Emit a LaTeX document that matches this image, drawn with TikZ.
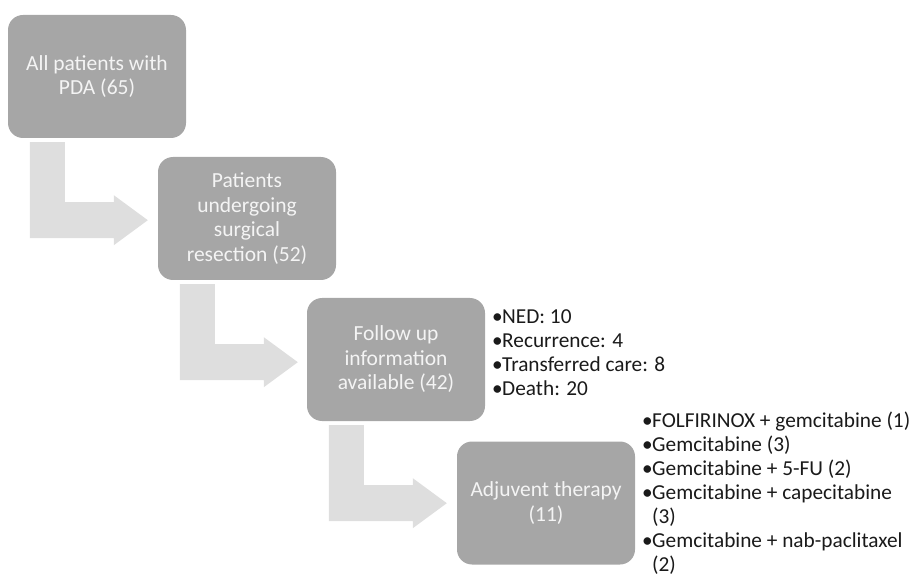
\documentclass[tikz,border=0pt]{standalone}
\usepackage{fontspec}
\setmainfont{Carlito}
\usetikzlibrary{calc}
\definecolor{boxgray}{HTML}{A6A6A6}
\definecolor{arrowgray}{HTML}{DEDEDE}
\definecolor{boxtext}{HTML}{F4F4F4}
\definecolor{listtext}{HTML}{1A1A1A}
\tikzset{
  stagebox/.style={rounded corners=15pt, fill=boxgray, draw=none,
    minimum width=178pt, minimum height=123pt, text=boxtext, align=center,
    font=\fontsize{21.5}{24.5}\selectfont, inner sep=0pt},
  bentarrow/.style={fill=arrowgray, draw=none},
  bulletlist/.style={anchor=north west, align=left, inner sep=0pt, text=listtext,
    font=\fontsize{21.3}{24}\selectfont}
}
\newcommand{\bul}{\makebox[10pt][l]{•}}
\newcommand{\hang}{\hspace*{10pt}}
\begin{document}
\begin{tikzpicture}[x=1pt,y=-1pt]
\useasboundingbox (0,0) rectangle (919,588);
\node[stagebox] (b1) at (97,76.5) {All patients with\\PDA (65)};
\node[stagebox] (b2) at (247,218.5) {Patients\\undergoing\\surgical\\resection (52)};
\node[stagebox] (b3) at (396,359.5) {Follow up\\information\\available (42)};
\node[stagebox] (b4) at (546,503) {Adjuvent therapy\\(11)};
\foreach \a/\b in {b1/b2,b2/b3,b3/b4}{
  \fill[bentarrow] ($(\a.south west)+(22,4)$) -- ($(\a.south west)+(57,4)$)
    -- ($(\a.south west)+(57,64)$) -- ($(\a.south west)+(106,64)$)
    -- ($(\a.south west)+(106,57)$) -- ($(\a.south west)+(140,82)$)
    -- ($(\a.south west)+(106,107)$) -- ($(\a.south west)+(106,100)$)
    -- ($(\a.south west)+(22,100)$) -- cycle;
}
\node[bulletlist] (l1) at (492,309) {\bul NED: 10\\\bul Recurrence: 4\\\bul Transferred care: 8\\\bul Death: 20};
\node[bulletlist] (l2) at (642,412) {\bul FOLFIRINOX + gemcitabine (1)\\\bul Gemcitabine (3)\\\bul Gemcitabine + 5-FU (2)\\\bul Gemcitabine + capecitabine\\\hang(3)\\\bul Gemcitabine + nab-paclitaxel\\\hang(2)};
\end{tikzpicture}
\end{document}
